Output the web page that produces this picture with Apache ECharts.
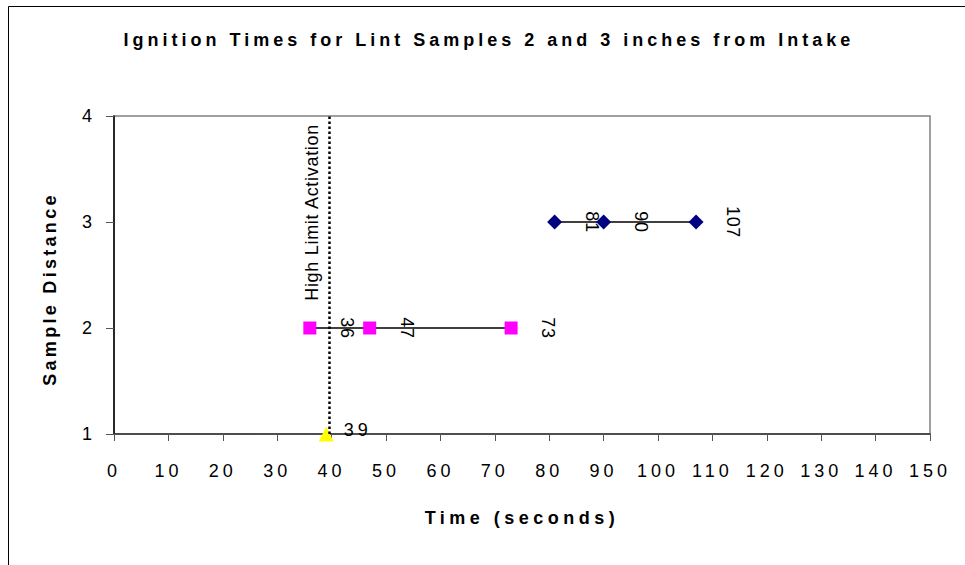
<!DOCTYPE html>
<html>
<head>
<meta charset="utf-8">
<script src="https://cdn.jsdelivr.net/npm/echarts@6/dist/echarts.min.js"></script>
<style>html,body{margin:0;padding:0;background:#fff}#c{width:965px;height:565px}</style>
</head>
<body>
<div id="c"></div>
<script>
const titleText = 'Ignition Times for Lint Samples 2 and 3 inches from Intake';
const xTitle = 'Time (seconds)';
const yTitle = 'Sample Distance';
const limitLabel = 'High Limit Activation';
const limitTime = 39.5;

const distance1 = 1;
const times1 = [39];
const distance2 = 2;
const times2 = [36, 47, 73];
const distance3 = 3;
const times3 = [81, 90, 107];

const xMin = 0, xMax = 150, xStep = 10;
const yMin = 1, yMax = 4, yStep = 1;

const font = '"Liberation Sans", Arial, sans-serif';
const chart = echarts.init(document.getElementById('c'), null, {renderer: 'svg'});

const rotLabel = {
  show: true, position: 'inside', rotate: -90, offset: [0, -37],
  color: '#000', fontSize: 18, fontFamily: font,
  formatter: p => String(p.value[0])
};

chart.setOption({
  animation: false,
  backgroundColor: '#fff',
  title: {
    text: titleText, left: 484, top: 26, textAlign: 'center',
    textStyle: {fontFamily: font, fontSize: 18, fontWeight: 'bold', color: '#000'}
  },
  graphic: [{
    type: 'rect', shape: {x: 8.5, y: 6.5, width: 1000, height: 700},
    style: {fill: null, stroke: '#000', lineWidth: 1}, silent: true, z: -1
  }],
  grid: {left: 114, right: 35, top: 116, bottom: 131, show: true, borderColor: '#808080', borderWidth: 1.5, backgroundColor: 'transparent'},
  xAxis: {
    type: 'value', min: xMin, max: xMax, interval: xStep,
    name: xTitle, nameLocation: 'middle', nameGap: 75,
    nameTextStyle: {fontFamily: font, fontSize: 18, fontWeight: 'bold', color: '#000'},
    axisLine: {show: true, onZero: false, lineStyle: {color: '#333', width: 1.5}},
    axisTick: {show: true, inside: false, length: 7, lineStyle: {color: '#555'}},
    axisLabel: {margin: 28, fontFamily: font, fontSize: 18, color: '#000'},
    splitLine: {show: false}
  },
  yAxis: {
    type: 'value', min: yMin, max: yMax, interval: yStep,
    name: yTitle, nameLocation: 'middle', nameGap: 55,
    nameTextStyle: {fontFamily: font, fontSize: 18, fontWeight: 'bold', color: '#000', padding: [0, 28, 0, 0]},
    axisLine: {show: true, onZero: false, lineStyle: {color: '#000', width: 1.5}},
    axisTick: {show: true, inside: false, length: 8, lineStyle: {color: '#555'}},
    axisLabel: {margin: 18, fontFamily: font, fontSize: 18, color: '#000'},
    splitLine: {show: false}
  },
  series: [
    {
      type: 'line', name: '1 inch', clip: false,
      data: times1.map(t => [t, distance1]),
      symbol: 'triangle', symbolSize: 15,
      itemStyle: {color: '#FFFF00'},
      lineStyle: {width: 0},
      label: {show: true, position: 'right', distance: 10, offset: [0, -4], color: '#000', fontSize: 18, fontFamily: font,
        formatter: p => String(p.value[0])},
      markLine: {
        silent: true, symbol: 'none', animation: false,
        lineStyle: {type: 'dotted', color: '#000', width: 2.5},
        label: {show: true, formatter: limitLabel, position: 'insideEndTop', distance: 8,
          color: '#000', fontSize: 18, fontFamily: font},
        data: [{xAxis: limitTime}]
      },
      z: 3
    },
    {
      type: 'line', name: '2 inches', clip: false,
      data: times2.map(t => [t, distance2]),
      symbol: 'rect', symbolSize: 13,
      itemStyle: {color: '#FF00FF'},
      lineStyle: {color: '#000', width: 1.5},
      label: rotLabel
    },
    {
      type: 'line', name: '3 inches', clip: false,
      data: times3.map(t => [t, distance3]),
      symbol: 'diamond', symbolSize: 15,
      itemStyle: {color: '#000080'},
      lineStyle: {color: '#000', width: 1.5},
      label: rotLabel
    }
  ]
});

// Excel-like letter tracking: wide on horizontal text, slight on rotated text
function applySpacing() {
  const texts = document.querySelectorAll('#c svg text');
  texts.forEach(el => {
    const content = (el.textContent || '').trim();
    let rotated = false;
    let node = el;
    while (node && node.tagName && node.tagName.toLowerCase() !== 'svg') {
      const tr = node.getAttribute && node.getAttribute('transform');
      if (tr) {
        const m = tr.match(/matrix\(([^)]*)\)/);
        if (m) {
          const nums = m[1].split(/[ ,]+/).map(Number);
          if (Math.abs(nums[1]) > 0.5) rotated = true;
        }
        if (/rotate\(/.test(tr)) rotated = true;
      }
      node = node.parentNode;
    }
    let ls = rotated ? '0.7px' : '4px';
    if (content === yTitle) ls = '3.3px';
    if (content === xTitle) ls = '4.5px';
    el.style.letterSpacing = ls;
  });
}
try { chart.getZr().refreshImmediately(); } catch (e) {}
applySpacing();
setTimeout(applySpacing, 30);
setTimeout(applySpacing, 200);
</script>
</body>
</html>
